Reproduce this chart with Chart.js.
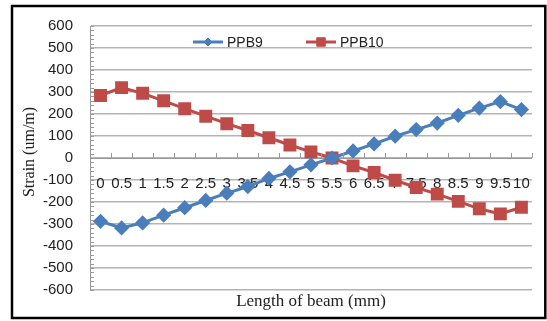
<!DOCTYPE html>
<html>
<head>
<meta charset="utf-8">
<script src="https://cdn.jsdelivr.net/npm/chart.js@4.4.1/dist/chart.umd.min.js"></script>
<style>
  html, body { margin: 0; padding: 0; background: #fff; }
  #wrap { width: 547px; height: 321px; }
</style>
</head>
<body>
<div id="wrap"><canvas id="strainChart"></canvas></div>
<script>
// Data
const positions = ['0', '0.5', '1', '1.5', '2', '2.5', '3', '3.5', '4', '4.5', '5',
  '5.5', '6', '6.5', '7', '7.5', '8', '8.5', '9', '9.5', '10'];
const ppb9 = [-288, -318, -295, -260, -226, -193, -160, -130, -93, -63, -31,
  0, 32, 64, 99, 129, 159, 194, 227, 256, 220];
const ppb10 = [284, 320, 294, 260, 224, 190, 156, 125, 92, 59, 28,
  0, -36, -66, -101, -134, -164, -197, -231, -254, -224];
const yMin = -600;
const yMax = 600;
const yLabelStep = 100;
const yMinorStep = 20;

const BLUE = '#4a7ebb';
const RED = '#be4b48';
const GRID = '#b4b4b4';
const TEXT = '#222';
const SANS = '"Liberation Sans", Arial, sans-serif';
const SERIF = '"Liberation Serif", "DejaVu Serif", serif';

// Frame, titles, inner tick marks and legend drawn over the chart
const decorations = {
  id: 'decorations',
  afterDraw(chart) {
    const { ctx, chartArea: ca, scales } = chart;
    ctx.save();

    // outer frame
    ctx.strokeStyle = '#000';
    ctx.lineWidth = 2.5;
    ctx.strokeRect(12, 6, 533.3, 312);

    // minor ticks on y axis (pointing inward)
    ctx.strokeStyle = '#999';
    ctx.lineWidth = 1;
    scales.y.ticks.forEach(t => {
      const py = Math.round(scales.y.getPixelForValue(t.value)) + 0.5;
      ctx.beginPath();
      ctx.moveTo(ca.left, py);
      ctx.lineTo(ca.left + 4, py);
      ctx.stroke();
    });

    // tick marks on x axis between categories (pointing up)
    const y0 = Math.round(scales.y.getPixelForValue(0));
    const half = (scales.x.getPixelForValue(1) - scales.x.getPixelForValue(0)) / 2;
    for (let i = 0; i <= positions.length; i++) {
      const px = Math.round(scales.x.getPixelForValue(i) - half) + 0.5;
      ctx.beginPath();
      ctx.moveTo(px, y0);
      ctx.lineTo(px, y0 - 5);
      ctx.stroke();
    }

    // axis titles
    ctx.fillStyle = TEXT;
    ctx.textAlign = 'center';
    ctx.textBaseline = 'middle';
    ctx.font = '17px ' + SERIF;
    ctx.fillText('Length of beam (mm)', (ca.left + ca.right) / 2, 302);
    ctx.save();
    ctx.font = '16px ' + SERIF;
    ctx.translate(30, 152);
    ctx.rotate(-Math.PI / 2);
    ctx.fillText('Strain (um/m)', 0, 0);
    ctx.restore();

    // legend inside the plot
    const items = [
      { ds: chart.data.datasets[0], x: ca.left + 103, r: 4 },
      { ds: chart.data.datasets[1], x: ca.left + 216, r: 6 }
    ];
    const ly = ca.top + 16;
    ctx.font = '14px ' + SANS;
    ctx.textAlign = 'left';
    items.forEach(it => {
      ctx.strokeStyle = it.ds.borderColor;
      ctx.lineWidth = 3;
      ctx.beginPath();
      ctx.moveTo(it.x, ly);
      ctx.lineTo(it.x + 30, ly);
      ctx.stroke();
      ctx.fillStyle = it.ds.pointBackgroundColor;
      ctx.strokeStyle = it.ds.pointBorderColor;
      ctx.lineWidth = 1;
      Chart.helpers.drawPoint(ctx, { pointStyle: it.ds.pointStyle, radius: it.r, rotation: 0, borderWidth: 1 }, it.x + 15, ly);
      ctx.fillStyle = TEXT;
      ctx.fillText(it.ds.label, it.x + 34, ly + 1);
    });

    ctx.restore();
  }
};

new Chart(document.getElementById('strainChart'), {
  type: 'line',
  data: {
    labels: positions,
    datasets: [
      {
        label: 'PPB9',
        data: ppb9,
        borderColor: BLUE,
        backgroundColor: BLUE,
        pointBackgroundColor: BLUE,
        pointBorderColor: BLUE,
        pointStyle: 'rectRot',
        pointRadius: 5.5,
        borderWidth: 3,
        tension: 0
      },
      {
        label: 'PPB10',
        data: ppb10,
        borderColor: RED,
        backgroundColor: RED,
        pointBackgroundColor: RED,
        pointBorderColor: RED,
        pointStyle: 'rect',
        pointRadius: 7,
        borderWidth: 3,
        tension: 0
      }
    ]
  },
  options: {
    responsive: true,
    maintainAspectRatio: false,
    animation: false,
    layout: { padding: { left: 0, right: 9, top: 24, bottom: 31 } },
    plugins: {
      legend: { display: false },
      tooltip: { enabled: false }
    },
    scales: {
      x: {
        type: 'category',
        position: { y: 0 },
        offset: true,
        grid: { display: false, drawTicks: false },
        border: { display: true, color: '#999', width: 1 },
        ticks: {
          autoSkip: false,
          maxRotation: 0,
          padding: 17,
          color: TEXT,
          font: { family: SANS, size: 15 }
        }
      },
      y: {
        min: yMin,
        max: yMax,
        afterFit: s => { s.width = 90; },
        grid: {
          drawTicks: false,
          color: c => (c.tick && c.tick.value % yLabelStep === 0) ? GRID : 'rgba(0,0,0,0)',
          lineWidth: 1.5
        },
        border: { display: true, color: '#999', width: 1 },
        ticks: {
          stepSize: yMinorStep,
          autoSkip: false,
          padding: 17,
          color: TEXT,
          font: { family: SANS, size: 15 },
          callback: v => (v % yLabelStep === 0 ? String(v) : '')
        }
      }
    }
  },
  plugins: [decorations]
});
</script>
</body>
</html>
